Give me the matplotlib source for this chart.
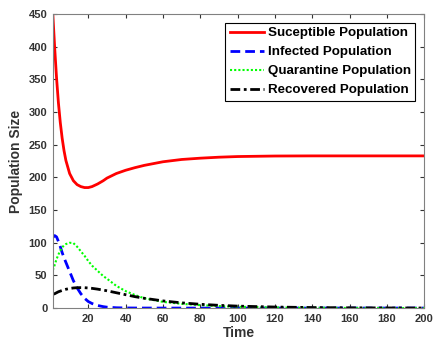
import matplotlib
matplotlib.use("Agg")
import matplotlib.pyplot as plt

# Sample times and population values for each compartment
time = [1, 2, 3, 4, 5, 6, 7, 8, 10, 12, 14, 16, 18, 20, 22, 25, 28, 30, 35,
        40, 45, 50, 60, 70, 80, 90, 100, 120, 140, 160, 180, 200]

susceptible = [450, 398, 352, 314, 284, 260, 241, 226, 206, 195, 189, 186, 184.5,
               184.5, 186, 190, 195, 199, 206, 211, 215, 218.5, 224, 227.5, 229.5,
               231, 232, 232.8, 233, 233, 233, 233]

infected = [108, 111, 109, 102, 94, 85, 77, 70, 56, 42, 31, 22, 15, 10, 7, 4,
            2.2, 1.4, 0.5, 0.2, 0.1, 0.05, 0.02, 0, 0, 0, 0, 0, 0, 0, 0, 0]

quarantine = [58, 66, 75, 82, 88, 93, 96, 98, 100, 99.5, 94, 87, 80, 72, 65, 57,
              49, 45, 34, 26, 20, 15, 9.5, 6.5, 4.5, 3, 2, 0.9, 0.4, 0.2, 0.1, 0.05]

recovered = [21, 22, 23.5, 25, 26, 27, 28, 28.8, 30, 30.8, 31.2, 31.3, 31.2, 30.8,
             30.2, 29, 27.5, 26.5, 23.5, 20.5, 17.5, 15, 11, 8, 5.8, 4.2, 3, 1.6,
             0.8, 0.4, 0.2, 0.1]

x_ticks = [20, 40, 60, 80, 100, 120, 140, 160, 180, 200]
y_ticks = [0, 50, 100, 150, 200, 250, 300, 350, 400, 450]

plt.rcParams['font.family'] = ['Liberation Sans', 'DejaVu Sans']
plt.rcParams['font.weight'] = 'bold'

fig = plt.figure(figsize=(4.33, 3.45), dpi=100)
ax = fig.add_axes([0.122, 0.107, 0.858, 0.852])

ax.plot(time, susceptible, color='#ff0000', linewidth=2, label='Suceptible Population')
ax.plot(time, infected, color='#0000ff', linewidth=2, linestyle=(0, (3.5, 1.8)),
        label='Infected Population')
ax.plot(time, quarantine, color='#00ff00', linewidth=1.5, linestyle=(0, (1, 1)),
        label='Quarantine Population')
ax.plot(time, recovered, color='black', linewidth=2, linestyle=(0, (3.5, 1.3, 1, 1.3)),
        label='Recovered Population')

ax.set_xlim(1, 200)
ax.set_ylim(0, 450)
ax.set_xticks(x_ticks)
ax.set_yticks(y_ticks)

text_color = '#333333'
ax.tick_params(direction='in', length=3, width=0.8, top=True, right=True,
               labelsize=8, colors=text_color, pad=4)
for label in ax.get_xticklabels() + ax.get_yticklabels():
    label.set_fontweight('bold')
for spine in ax.spines.values():
    spine.set_color('#808080')
    spine.set_linewidth(0.8)

ax.set_xlabel('Time', fontsize=10, fontweight='bold', color=text_color, labelpad=2)
ax.set_ylabel('Population Size', fontsize=10, fontweight='bold', color=text_color, labelpad=4)

leg = ax.legend(loc='upper right', bbox_to_anchor=(415 / 433, 1 - 22.7 / 345),
                bbox_transform=fig.transFigure, borderaxespad=0, fancybox=False,
                framealpha=1, edgecolor='black', handlelength=2.6, handletextpad=0.25,
                labelspacing=0.5, borderpad=0.32, prop={'size': 9.6, 'weight': 'bold'})
leg.get_frame().set_linewidth(0.8)
for text in leg.get_texts():
    text.set_color('black')

fig.savefig('out.png', dpi=100)
